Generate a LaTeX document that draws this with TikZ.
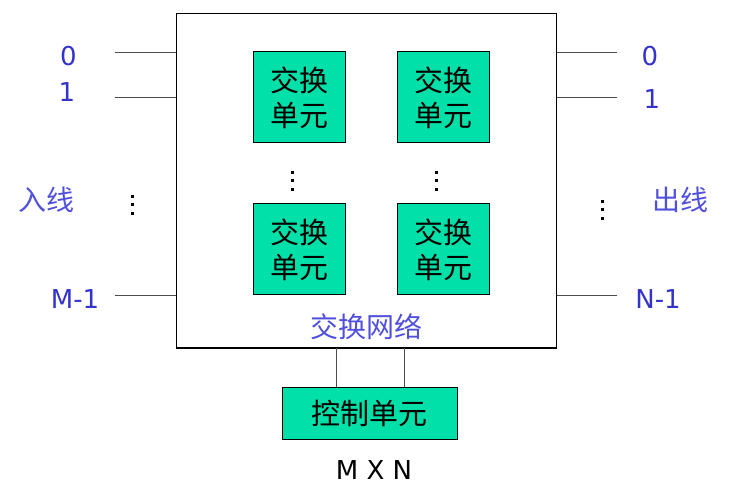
\documentclass[tikz,border=0pt]{standalone}
\usepackage{fontspec}
\setmainfont{DejaVu Sans}
\newfontfamily\cjk{Noto Sans CJK SC}
\usetikzlibrary{positioning,calc}
\definecolor{lineblue}{RGB}{51,51,204}
\definecolor{labelblue}{RGB}{80,80,220}
\definecolor{unitgreen}{RGB}{0,224,168}

\begin{document}
\begin{tikzpicture}[x=1pt,y=-1pt,
  unit/.style={draw, line width=1pt, fill=unitgreen, inner sep=0pt, align=center,
    minimum width=92pt, minimum height=91pt, font=\cjk\fontsize{29}{35}\selectfont},
  lbl/.style={text=lineblue, inner sep=0pt, font=\fontsize{26}{30}\selectfont},
  cjklbl/.style={text=labelblue, inner sep=0pt, font=\cjk\fontsize{28}{30}\selectfont},
  wire/.style={draw=black!70, line width=0.9pt}]
\useasboundingbox (0,0) rectangle (753,497);
% switching network
\node[draw, line width=1pt, minimum width=380pt, minimum height=334pt, inner sep=0pt] (net) at (366,181) {};
\foreach \n/\x/\y in {u11/299/97.5, u12/443.5/97.5, u21/299/249.5, u22/443.5/249.5}
  \node[unit] (\n) at (\x,\y) {交换\\单元};
\node[cjklbl] (netlbl) at (366.5,327) {交换网络};
% vertical dots
\foreach \x/\y in {292/181, 436/181, 132/205, 602/210}
  \foreach \d in {-8.5,0,8.5}
    \fill (\x-1.5,\y+\d-1.5) rectangle ++(3,3);
% inputs and outputs
\foreach \i/\y in {0/52.3, 1/97.7, 2/295.3} {
  \coordinate (in\i) at (115,\y);
  \coordinate (out\i) at (617,\y);
  \draw[wire] (in\i) -- (in\i -| net.west);
  \draw[wire] (out\i) -- (out\i -| net.east);
}
\node[lbl] (il0) at (68.5,56) {0};
\node[lbl] (il1) at (67,92) {1};
\node[lbl] (il2) at (75,299) {M-1};
\node[lbl] (ol0) at (650,56) {0};
\node[lbl] (ol1) at (652,99) {1};
\node[lbl] (ol2) at (658,299) {N-1};
\node[cjklbl] (inlbl) at (47,200) {入线};
\node[cjklbl] (outlbl) at (680,200) {出线};
% control unit
\node[unit, minimum width=175pt, minimum height=52pt] (ctrl) at (369.5,413) {控制单元};
\draw[wire] ([xshift=-33.5pt]ctrl.north) -- ([xshift=-33.5pt]ctrl.north |- net.south);
\draw[wire] ([xshift=34.5pt]ctrl.north) -- ([xshift=34.5pt]ctrl.north |- net.south);
\node[inner sep=0pt, font=\fontsize{26}{30}\selectfont] (size) at (374,470) {M X N};
\end{tikzpicture}
\end{document}
